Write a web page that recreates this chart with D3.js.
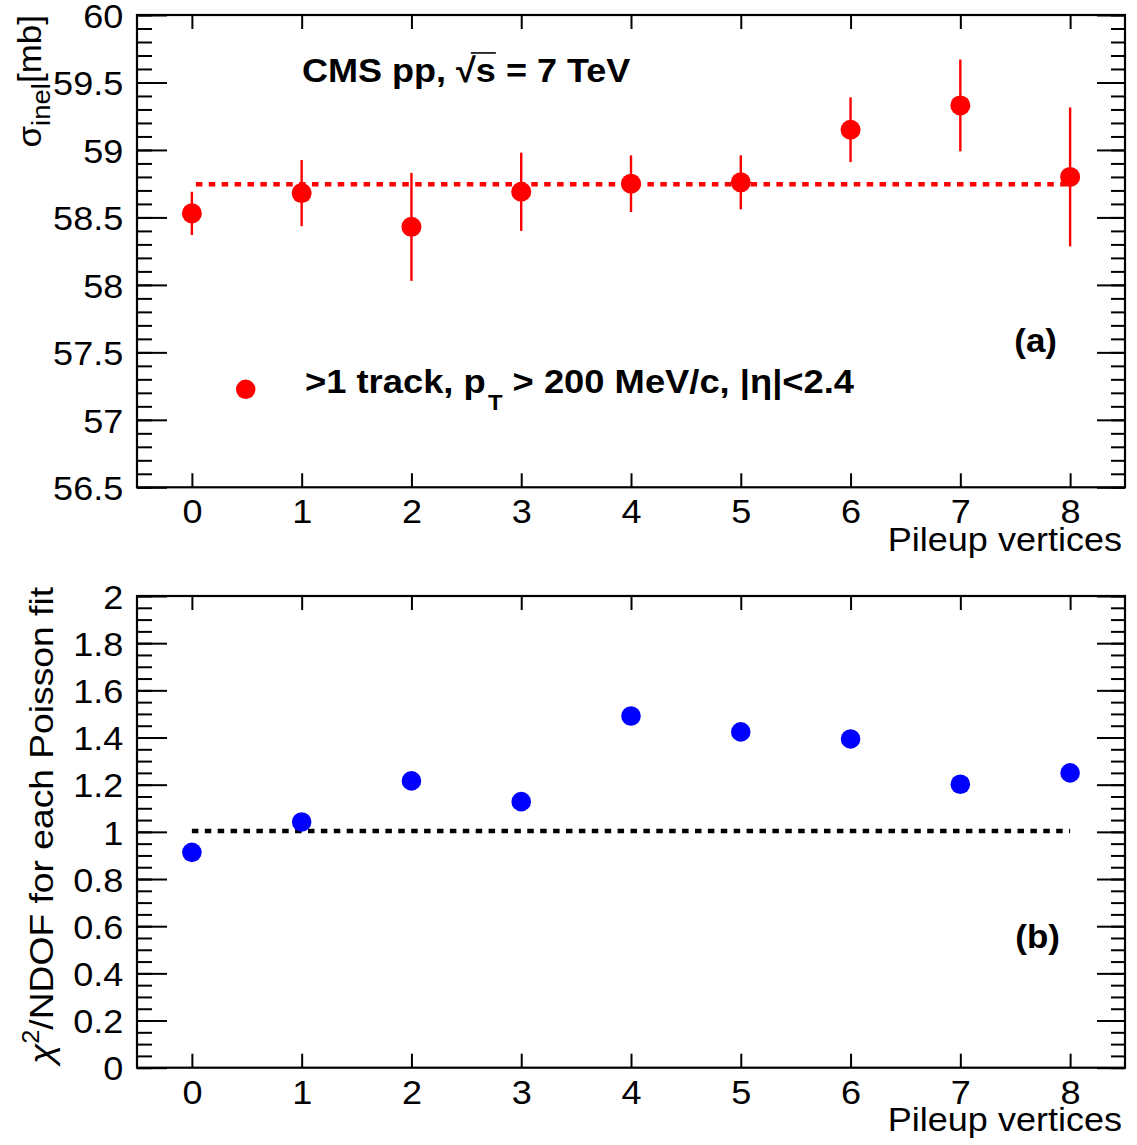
<!DOCTYPE html>
<html>
<head>
<meta charset="utf-8">
<script src="https://cdn.jsdelivr.net/npm/d3@7"></script>
<style>
html,body{margin:0;padding:0;background:#fff;}
svg{display:block;}
text{font-family:"Liberation Sans",Arial,Helvetica,sans-serif;}
</style>
</head>
<body>
<script>
// ---------------- data ----------------
const pileup = [0, 1, 2, 3, 4, 5, 6, 7, 8];
const sigmaVals = [58.53, 58.68, 58.43, 58.69, 58.75, 58.76, 59.15, 59.33, 58.80];
const sigmaErrs = [0.16, 0.245, 0.40, 0.29, 0.21, 0.20, 0.24, 0.34, 0.515];
const sigmaFit = 58.745;
const chi2Vals = [0.913, 1.042, 1.216, 1.128, 1.491, 1.424, 1.394, 1.202, 1.250];
const chi2Ref = 1.004;
const xTicks = [0, 1, 2, 3, 4, 5, 6, 7, 8];
const sigmaTicks = [56.5, 57, 57.5, 58, 58.5, 59, 59.5, 60];
const sigmaMinor = d3.range(0, 36).map(i => +(56.5 + i * 0.1).toFixed(2));
const chi2Ticks = [0, 0.2, 0.4, 0.6, 0.8, 1, 1.2, 1.4, 1.6, 1.8, 2];
const chi2Minor = d3.range(0, 41).map(i => +(i * 0.05).toFixed(3));
const xTitle = "Pileup vertices";
const legendLabel = [">1 track, p", "T", " > 200 MeV/c, |\u03B7|<2.4"];

// ---------------- layout ----------------
const W = 1137, H = 1145;
const L = 137, R = 1125;
const top1 = 15, bot1 = 487.3;
const top2 = 596, bot2 = 1067.7;
const SX = 1.06;
const FS = 34;

const svg = d3.select("body").append("svg").attr("width", W).attr("height", H);
svg.append("rect").attr("width", W).attr("height", H).attr("fill", "#fff");

const x = d3.scaleLinear().domain([-0.5, 8.5]).range([L, R]);
const y1 = d3.scaleLinear().domain([56.5, 60]).range([bot1, top1]);
const y2 = d3.scaleLinear().domain([0, 2]).range([bot2, top2]);

function styleAxis(g) {
  g.select(".domain").remove();
  g.selectAll(".tick line").attr("stroke", "#000").attr("stroke-width", 2);
}

function drawFrame(y, top, bot, majors, minors, fmt) {
  const gl = svg.append("g").attr("transform", `translate(${L},0)`)
    .call(d3.axisLeft(y).tickValues(majors).tickSize(-30).tickPadding(13).tickFormat(fmt));
  styleAxis(gl);
  gl.selectAll(".tick text").attr("font-size", FS).attr("fill", "#000")
    .attr("font-family", '"Liberation Sans",Arial,sans-serif')
    .attr("dy", "0.36em").attr("transform", `scale(${SX},1)`);
  const glm = svg.append("g").attr("transform", `translate(${L},0)`)
    .call(d3.axisLeft(y).tickValues(minors).tickSize(-15).tickFormat(""));
  styleAxis(glm);
  const gr = svg.append("g").attr("transform", `translate(${R},0)`)
    .call(d3.axisRight(y).tickValues(majors).tickSize(-28).tickFormat(""));
  styleAxis(gr);
  const grm = svg.append("g").attr("transform", `translate(${R},0)`)
    .call(d3.axisRight(y).tickValues(minors).tickSize(-14).tickFormat(""));
  styleAxis(grm);
  const gb = svg.append("g").attr("transform", `translate(0,${bot})`)
    .call(d3.axisBottom(x).tickValues(xTicks).tickSize(-14).tickPadding(12).tickFormat(d3.format("d")));
  styleAxis(gb);
  gb.selectAll(".tick text").attr("font-size", FS).attr("fill", "#000")
    .attr("font-family", '"Liberation Sans",Arial,sans-serif')
    .attr("transform", `scale(${SX},1)`);
  const gt = svg.append("g").attr("transform", `translate(0,${top})`)
    .call(d3.axisTop(x).tickValues(xTicks).tickSize(-14).tickFormat(""));
  styleAxis(gt);
  svg.append("rect").attr("x", L).attr("y", top).attr("width", R - L).attr("height", bot - top)
    .attr("fill", "none").attr("stroke", "#000").attr("stroke-width", 2.2);
  const tg = svg.append("g").attr("transform", `translate(1122,${bot + 63.5}) scale(${SX},1)`);
  tg.append("text").attr("text-anchor", "end").attr("font-size", 34).text(xTitle);
}

drawFrame(y1, top1, bot1, sigmaTicks, sigmaMinor, d => String(d));
drawFrame(y2, top2, bot2, chi2Ticks, chi2Minor, d => String(d));

// ---------------- panel (a) ----------------
svg.append("line")
  .attr("x1", x(pileup[0])).attr("x2", x(pileup[pileup.length - 1]))
  .attr("y1", y1(sigmaFit)).attr("y2", y1(sigmaFit))
  .attr("stroke", "#ff0000").attr("stroke-width", 4.5).attr("stroke-dasharray", "6.5,6.4")
  .attr("stroke-dashoffset", -4);

const pa = svg.append("g");
pa.selectAll("line.err").data(pileup).enter().append("line")
  .attr("x1", d => x(d)).attr("x2", d => x(d))
  .attr("y1", (d, i) => y1(sigmaVals[i] + sigmaErrs[i]))
  .attr("y2", (d, i) => y1(sigmaVals[i] - sigmaErrs[i]))
  .attr("stroke", "#ff0000").attr("stroke-width", 2.4);
pa.selectAll("circle").data(pileup).enter().append("circle")
  .attr("cx", d => x(d)).attr("cy", (d, i) => y1(sigmaVals[i]))
  .attr("r", 10).attr("fill", "#ff0000");

// CMS label
const cmsG = svg.append("g").attr("transform", `translate(302,82) scale(1.06,1)`);
const cmsT = cmsG.append("text").attr("font-size", 34).attr("font-weight", "bold").text("CMS pp, \u221As = 7 TeV");
try {
  const s = "CMS pp, \u221As = 7 TeV";
  const iR = s.indexOf("\u221A");
  const eR = cmsT.node().getExtentOfChar(iR);
  const eS = cmsT.node().getExtentOfChar(iR + 1);
  cmsG.append("line")
    .attr("x1", eR.x + eR.width * 0.75).attr("x2", eS.x + eS.width)
    .attr("y1", eR.y + 2).attr("y2", eR.y + 2)
    .attr("stroke", "#000").attr("stroke-width", 1.6);
} catch (e) {}

// legend
svg.append("circle").attr("cx", 245.7).attr("cy", 389.3).attr("r", 9.7).attr("fill", "#ff0000");
const lgG = svg.append("g").attr("transform", `translate(305,393) scale(1.085,1)`);
const lgT = lgG.append("text").attr("font-size", 33.5).attr("font-weight", "bold");
lgT.append("tspan").text(legendLabel[0]);
lgT.append("tspan").attr("font-size", 22).attr("dy", 17).attr("dx", 2).text(legendLabel[1]);
lgT.append("tspan").attr("dy", -17).text(legendLabel[2]);

// (a)
svg.append("g").attr("transform", `translate(1057,352) scale(1.06,1)`)
  .append("text").attr("text-anchor", "end").attr("font-size", 33).attr("font-weight", "bold").text("(a)");

// y title (a)
const yt1 = svg.append("g").attr("transform", `translate(41,15) rotate(-90) scale(${SX},1)`)
  .append("text").attr("text-anchor", "end").attr("font-size", 33);
yt1.append("tspan").text("\u03C3");
yt1.append("tspan").attr("font-size", 26).attr("dy", 9).text("inel");
yt1.append("tspan").attr("dy", -9).text("[mb]");

// ---------------- panel (b) ----------------
svg.append("line")
  .attr("x1", x(pileup[0])).attr("x2", x(pileup[pileup.length - 1]))
  .attr("y1", y2(chi2Ref)).attr("y2", y2(chi2Ref))
  .attr("stroke", "#000").attr("stroke-width", 4.5).attr("stroke-dasharray", "6.5,6.4");

svg.append("g").selectAll("circle").data(pileup).enter().append("circle")
  .attr("cx", d => x(d)).attr("cy", (d, i) => y2(chi2Vals[i]))
  .attr("r", 9.8).attr("fill", "#0000ff");

svg.append("g").attr("transform", `translate(1060,948) scale(1.06,1)`)
  .append("text").attr("text-anchor", "end").attr("font-size", 33).attr("font-weight", "bold").text("(b)");

const yt2 = svg.append("g").attr("transform", `translate(53,587) rotate(-90) scale(1.095,1)`)
  .append("text").attr("text-anchor", "end").attr("font-size", 34);
yt2.append("tspan").attr("font-style", "italic").text("\u03C7");
yt2.append("tspan").attr("font-size", 23).attr("dy", -14).text("2");
yt2.append("tspan").attr("dy", 14).text("/NDOF for each Poisson fit");
</script>
</body>
</html>
